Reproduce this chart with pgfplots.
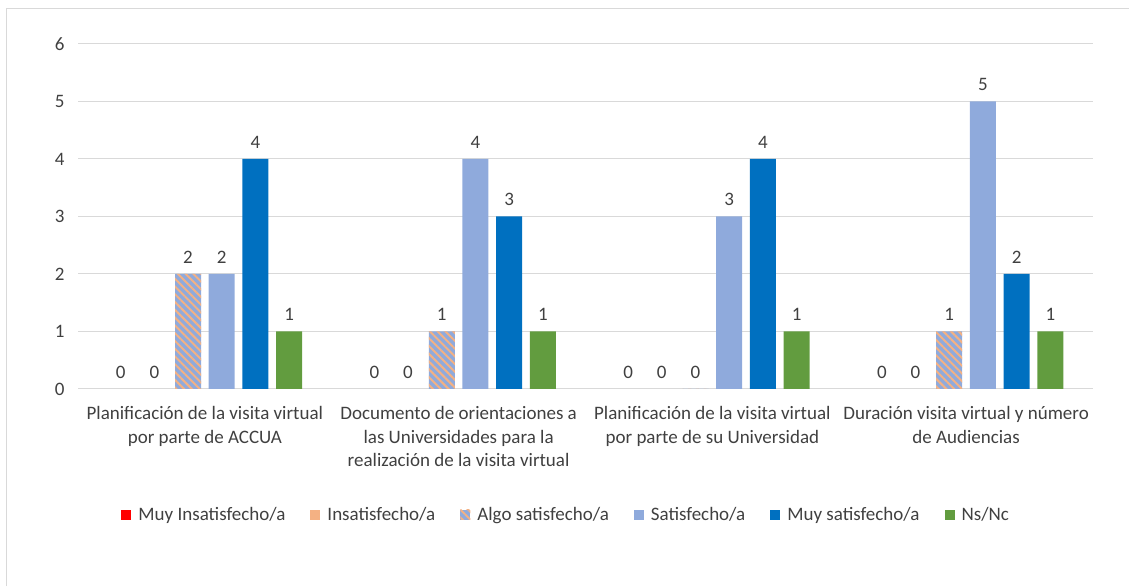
\documentclass[border=0pt]{standalone}
\usepackage{pgfplots}
\pgfplotsset{compat=1.18}
\usepackage{fontspec}
\setmainfont{Carlito}
\usetikzlibrary{patterns.meta}
\definecolor{cred}{HTML}{FF0000}
\definecolor{corange}{HTML}{F4B183}
\definecolor{csat}{HTML}{8FAADC}
\definecolor{cmuy}{HTML}{0070C0}
\definecolor{cgreen}{HTML}{629C3F}
\definecolor{ctext}{HTML}{404040}
\definecolor{cgrid}{HTML}{D9D9D9}
\begin{document}
\begin{tikzpicture}[x=1pt,y=1pt]
\path[use as bounding box] (0,0) rectangle (1129,586);
\draw[cgrid, line width=1pt] (6.5,0) -- (6.5,577) -- (1129,577);
\begin{axis}[
  at={(78pt,197pt)}, anchor=south west,
  scale only axis, width=1015pt, height=345pt,
  ybar=7.7pt, bar width=26pt,
  xmin=-0.5, xmax=3.5, ymin=0, ymax=6,
  ytick={0,1,2,3,4,5,6},
  xtick={0,1,2,3},
  xticklabels={{Planificación de la visita virtual\\por parte de ACCUA},
    {Documento de orientaciones a\\las Universidades para la\\realización de la visita virtual},
    {Planificación de la visita virtual\\por parte de su Universidad},
    {Duración visita virtual y número\\de Audiencias}},
  x tick label style={align=center, font=\fontsize{19}{23.5}\selectfont, text=ctext, yshift=-14pt},
  y tick label style={font=\fontsize{19}{22}\selectfont, text=ctext, xshift=-10pt},
  /pgf/number format/assume math mode=true,
  major tick length=0pt,
  axis line style={draw=none},
  ymajorgrids, grid style={cgrid, line width=1pt},
  xtick pos=bottom, ytick pos=left,
  nodes near coords,
  every node near coord/.append style={font=\fontsize{19}{22}\selectfont, text=ctext, anchor=south, yshift=7pt},
  legend columns=6,
  legend style={draw=none, at={(0.481,-0.365)}, anchor=center,
    font=\fontsize{19}{22}\selectfont, text=ctext,
    /tikz/every even column/.append style={column sep=23pt}},
  legend image code/.code={\fill[#1] (0pt,-5pt) rectangle (10pt,5pt); \path (15pt,0pt);},
]
\addplot[fill=none, draw=none, legend image code/.code={\fill[cred] (0pt,-5pt) rectangle (10pt,5pt); \path (15pt,0pt);}] coordinates {(0,0) (1,0) (2,0) (3,0)};
\addlegendentry{Muy Insatisfecho/a}
\addplot[fill=none, draw=none, legend image code/.code={\fill[corange] (0pt,-5pt) rectangle (10pt,5pt); \path (15pt,0pt);}] coordinates {(0,0) (1,0) (2,0) (3,0)};
\addlegendentry{Insatisfecho/a}
\addplot[fill=csat, draw=none, postaction={pattern={Lines[angle=-45,distance=5.5pt,line width=2pt]}, pattern color=corange}] coordinates {(0,2) (1,1) (2,0) (3,1)};
\addlegendentry{Algo satisfecho/a}
\addplot[fill=csat, draw=none] coordinates {(0,2) (1,4) (2,3) (3,5)};
\addlegendentry{Satisfecho/a}
\addplot[fill=cmuy, draw=none] coordinates {(0,4) (1,3) (2,4) (3,2)};
\addlegendentry{Muy satisfecho/a}
\addplot[fill=cgreen, draw=none] coordinates {(0,1) (1,1) (2,1) (3,1)};
\addlegendentry{Ns/Nc}
\end{axis}
\end{tikzpicture}
\end{document}
